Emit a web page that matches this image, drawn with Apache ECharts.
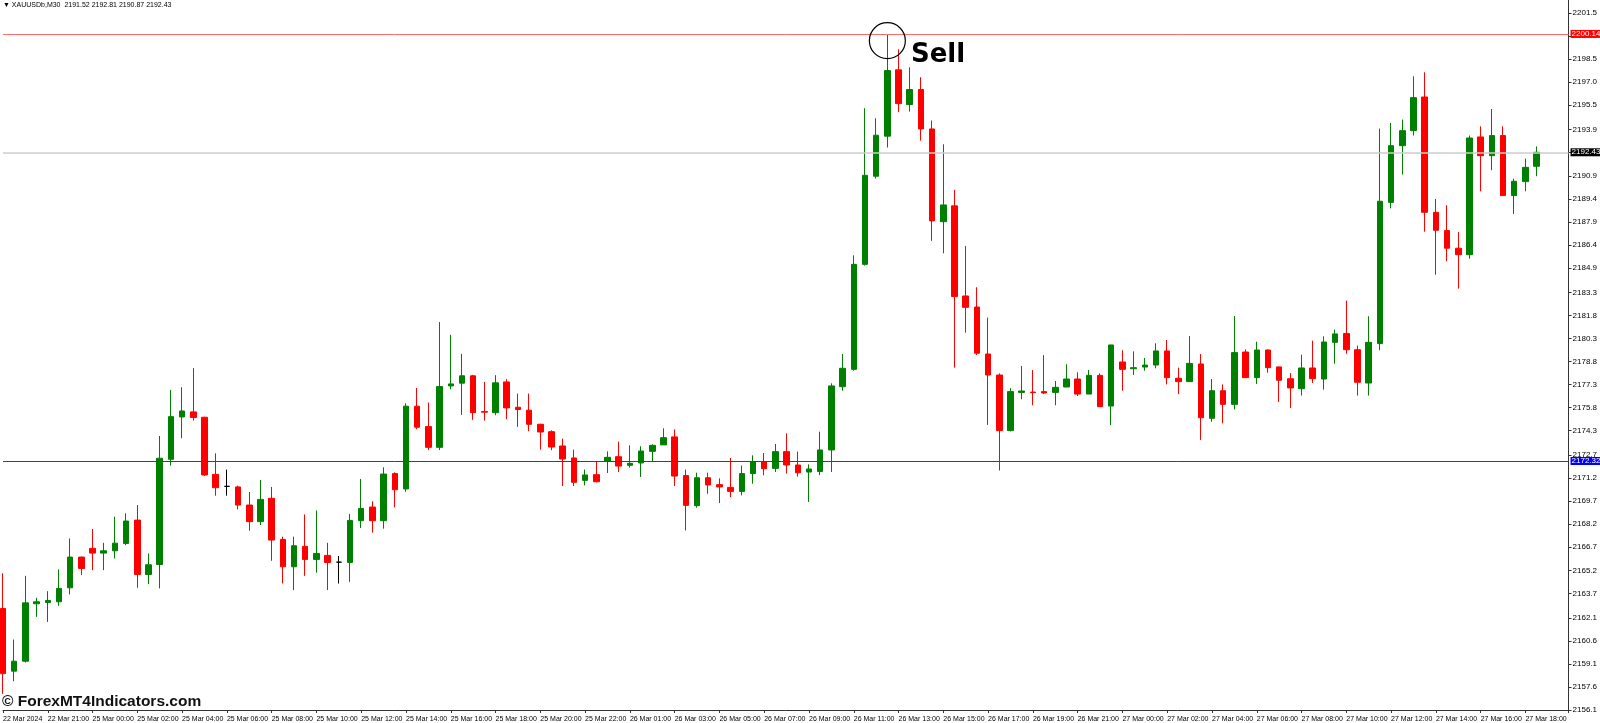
<!DOCTYPE html>
<html>
<head>
    <meta charset="utf-8">
    <title>XAUUSDb M30</title>
    <script src="https://cdn.jsdelivr.net/npm/echarts@6/dist/echarts.min.js"></script>
    <style>body { margin: 0; background: #fff; }</style>
</head>
<body>
    <div id="main" style="width:1600px;height:723px;"></div>
    <script type="text/javascript">
        // M30 candles, each row is [open, close, low, high]
        var mar22 = [
            [2162.71, 2158.47, 2157.15, 2165.00], [2158.63, 2159.28, 2157.97, 2160.69],
            [2159.28, 2163.08, 2159.19, 2164.84], [2163.02, 2163.15, 2162.17, 2163.41],
            [2163.10, 2163.23, 2161.84, 2163.84], [2163.15, 2164.02, 2162.89, 2165.26],
            [2164.06, 2166.06, 2163.63, 2167.28], [2166.06, 2165.32, 2164.89, 2166.10]
        ];
        var mar25 = [
            [2166.63, 2166.32, 2165.21, 2167.89], [2166.32, 2166.47, 2165.21, 2166.99],
            [2166.47, 2166.97, 2165.97, 2168.69], [2166.95, 2168.41, 2166.84, 2168.91],
            [2168.47, 2164.93, 2164.06, 2169.45], [2164.93, 2165.56, 2164.30, 2166.30],
            [2165.58, 2172.50, 2164.02, 2173.95], [2172.43, 2175.21, 2172.02, 2176.95],
            [2175.19, 2175.58, 2173.80, 2177.13], [2175.52, 2175.15, 2174.95, 2178.37],
            [2175.17, 2171.41, 2171.35, 2175.20], [2171.45, 2170.58, 2170.06, 2172.82],
            [2170.67, 2170.67, 2170.06, 2171.76], [2170.63, 2169.45, 2169.17, 2170.71],
            [2169.45, 2168.37, 2167.78, 2170.30], [2168.37, 2169.82, 2168.15, 2171.08],
            [2169.89, 2167.17, 2165.82, 2170.63], [2167.21, 2165.43, 2164.34, 2167.39],
            [2165.43, 2166.80, 2163.91, 2167.39], [2166.76, 2165.91, 2164.84, 2168.84],
            [2165.91, 2166.30, 2165.04, 2169.10], [2166.17, 2165.71, 2163.91, 2166.99],
            [2165.73, 2165.73, 2164.34, 2166.13], [2165.71, 2168.45, 2164.45, 2168.87],
            [2168.43, 2169.23, 2167.95, 2171.15], [2169.32, 2168.43, 2167.65, 2169.69],
            [2168.43, 2171.47, 2167.91, 2171.91], [2171.50, 2170.45, 2169.30, 2171.58],
            [2170.50, 2175.89, 2170.32, 2176.08], [2175.89, 2174.52, 2174.39, 2177.08],
            [2174.56, 2173.21, 2173.04, 2176.13], [2173.21, 2177.17, 2173.04, 2181.37],
            [2177.21, 2177.34, 2176.99, 2180.54], [2177.39, 2177.87, 2175.32, 2179.30],
            [2177.87, 2175.47, 2175.00, 2177.93], [2175.54, 2175.50, 2174.95, 2177.47],
            [2175.47, 2177.41, 2175.30, 2177.91], [2177.47, 2175.78, 2175.04, 2177.65],
            [2175.82, 2175.67, 2174.54, 2176.71], [2175.63, 2174.71, 2174.26, 2176.71],
            [2174.71, 2174.21, 2173.06, 2174.75], [2174.23, 2173.23, 2173.02, 2174.32],
            [2173.30, 2172.45, 2170.69, 2173.78], [2172.52, 2170.93, 2170.69, 2173.06],
            [2171.06, 2171.41, 2170.73, 2171.76], [2171.43, 2170.97, 2170.93, 2172.28]
        ];
        var mar26 = [
            [2172.30, 2172.56, 2171.54, 2172.95], [2172.60, 2171.99, 2171.60, 2173.58],
            [2172.04, 2172.17, 2171.89, 2173.34], [2172.19, 2172.97, 2171.28, 2173.28],
            [2172.95, 2173.34, 2172.30, 2173.41], [2173.37, 2173.84, 2173.37, 2174.45],
            [2173.89, 2171.34, 2170.69, 2174.37], [2171.37, 2169.43, 2167.80, 2171.76],
            [2169.41, 2171.23, 2169.28, 2171.56], [2171.23, 2170.76, 2170.19, 2171.56],
            [2170.78, 2170.63, 2169.58, 2171.19], [2170.60, 2170.34, 2169.97, 2172.52],
            [2170.34, 2171.50, 2170.08, 2172.02], [2171.50, 2172.26, 2170.84, 2172.69],
            [2172.26, 2171.82, 2171.39, 2172.84], [2171.84, 2172.93, 2171.60, 2173.43],
            [2172.93, 2172.06, 2171.50, 2174.12], [2172.06, 2171.55, 2171.30, 2172.93],
            [2171.60, 2171.80, 2169.65, 2172.10], [2171.64, 2173.04, 2171.40, 2174.23],
            [2173.04, 2177.21, 2171.60, 2177.38], [2177.16, 2178.36, 2176.90, 2179.29],
            [2178.29, 2185.13, 2178.20, 2185.72], [2185.13, 2190.93, 2185.05, 2195.30],
            [2190.87, 2193.54, 2190.72, 2194.65], [2193.48, 2197.75, 2192.74, 2200.10],
            [2197.80, 2195.60, 2195.04, 2199.14], [2195.54, 2196.52, 2195.08, 2197.97],
            [2196.52, 2193.95, 2193.19, 2197.32], [2193.95, 2187.96, 2186.66, 2194.50],
            [2187.91, 2189.00, 2185.85, 2192.95], [2188.94, 2183.03, 2178.40, 2189.98],
            [2183.07, 2182.33, 2180.68, 2186.33], [2182.35, 2179.34, 2179.23, 2183.64],
            [2179.29, 2177.92, 2174.67, 2181.66], [2177.92, 2174.30, 2171.70, 2178.03],
            [2174.30, 2176.84, 2174.25, 2177.06], [2176.79, 2176.88, 2176.34, 2178.51],
            [2176.81, 2176.77, 2175.95, 2178.25], [2176.84, 2176.75, 2176.68, 2179.22],
            [2176.79, 2177.12, 2175.95, 2177.53], [2177.14, 2177.66, 2177.14, 2178.62],
            [2177.66, 2176.68, 2176.55, 2178.10], [2176.68, 2177.90, 2176.68, 2178.25],
            [2177.90, 2175.86, 2175.86, 2178.03], [2175.90, 2179.88, 2174.66, 2179.88]
        ];
        var mar27 = [
            [2178.77, 2178.29, 2176.90, 2179.53], [2178.33, 2178.40, 2177.92, 2179.46],
            [2178.44, 2178.57, 2178.20, 2179.03], [2178.57, 2179.49, 2178.36, 2179.99],
            [2179.49, 2177.75, 2177.31, 2180.20], [2177.71, 2177.49, 2176.68, 2178.40],
            [2177.49, 2178.68, 2177.49, 2180.46], [2178.64, 2175.14, 2173.69, 2179.29],
            [2175.10, 2176.90, 2174.88, 2177.66], [2176.90, 2176.01, 2174.77, 2177.31],
            [2176.01, 2179.38, 2175.68, 2181.77], [2179.42, 2177.75, 2177.75, 2179.59],
            [2177.75, 2179.55, 2177.34, 2180.09], [2179.55, 2178.40, 2178.07, 2179.59],
            [2178.45, 2177.58, 2176.17, 2178.45], [2177.68, 2177.08, 2175.77, 2178.05],
            [2177.03, 2178.38, 2176.58, 2179.25], [2178.38, 2177.68, 2177.40, 2180.16],
            [2177.66, 2180.07, 2176.97, 2180.44], [2180.05, 2180.60, 2178.66, 2180.88],
            [2180.62, 2179.57, 2179.31, 2182.77], [2179.57, 2177.45, 2176.58, 2179.84],
            [2177.40, 2180.05, 2176.58, 2181.75], [2179.97, 2189.24, 2179.53, 2193.97],
            [2189.17, 2192.86, 2188.78, 2194.34], [2192.86, 2193.84, 2190.98, 2194.56],
            [2193.84, 2195.99, 2193.52, 2197.38], [2196.03, 2188.52, 2187.26, 2197.64],
            [2188.52, 2187.35, 2184.46, 2189.39], [2187.33, 2186.18, 2185.33, 2188.98],
            [2186.18, 2185.76, 2183.55, 2187.24], [2185.76, 2193.36, 2185.50, 2193.52],
            [2193.43, 2192.21, 2189.89, 2194.12], [2192.21, 2193.52, 2191.26, 2195.25],
            [2193.52, 2189.61, 2189.61, 2194.12], [2189.61, 2190.54, 2188.41, 2190.71],
            [2190.52, 2191.45, 2189.89, 2192.02], [2191.52, 2192.43, 2190.87, 2192.81]
        ];

        // time scale labels, one every 4 bars
        var xLabels = [
            '22 Mar 2024', '22 Mar 21:00', '25 Mar 00:00', '25 Mar 02:00', '25 Mar 04:00',
            '25 Mar 06:00', '25 Mar 08:00', '25 Mar 10:00', '25 Mar 12:00', '25 Mar 14:00',
            '25 Mar 16:00', '25 Mar 18:00', '25 Mar 20:00', '25 Mar 22:00', '26 Mar 01:00',
            '26 Mar 03:00', '26 Mar 05:00', '26 Mar 07:00', '26 Mar 09:00', '26 Mar 11:00',
            '26 Mar 13:00', '26 Mar 15:00', '26 Mar 17:00', '26 Mar 19:00', '26 Mar 21:00',
            '27 Mar 00:00', '27 Mar 02:00', '27 Mar 04:00', '27 Mar 06:00', '27 Mar 08:00',
            '27 Mar 10:00', '27 Mar 12:00', '27 Mar 14:00', '27 Mar 16:00', '27 Mar 18:00'
        ];
        // price scale labels
        var yTicks = [
            2156.1, 2157.6, 2159.1, 2160.6, 2162.1, 2163.7, 2165.2, 2166.7, 2168.2, 2169.7,
            2171.2, 2172.7, 2174.3, 2175.8, 2177.3, 2178.8, 2180.3, 2181.8, 2183.3, 2184.9,
            2186.4, 2187.9, 2189.4, 2190.9, 2192.4, 2193.9, 2195.5, 2197.0, 2198.5, 2200.0,
            2201.5
        ];

        var sellLevel = 2200.14;
        var bidLevel = 2192.43;
        var supportLevel = 2172.32;
        var sellPoint = [79, 2199.7];

        var candles = mar22.concat(mar25, mar26, mar27);
        var candleData = candles.map(function (c, i) {
            var item = { value: [i, c[0], c[1], c[2], c[3]] };
            if (c[0] === c[1]) {
                item.itemStyle = { color: '#000', color0: '#000', borderColor: '#000', borderColor0: '#000', borderColorDoji: '#000' };
            }
            return item;
        });

        var font = 'Liberation Sans';
        var myChart = echarts.init(document.getElementById('main'));

        function levelLabel(bg) {
            return {
                show: true, position: 'end', distance: 2,
                formatter: function (p) { return p.value.toFixed(2); },
                color: '#fff', backgroundColor: bg, fontFamily: font, fontSize: 8,
                lineHeight: 8, padding: [0, 1]
            };
        }

        var option = {
            animation: false,
            backgroundColor: '#fff',
            title: {
                text: '\u25BC XAUUSDb,M30  2191.52 2192.81 2190.87 2192.43',
                left: 3, top: 2, padding: 0,
                textStyle: { fontFamily: font, fontSize: 7, fontWeight: 'normal', color: '#000' }
            },
            graphic: [{
                type: 'text', left: 2, bottom: 13,
                style: { text: '\u00A9 ForexMT4Indicators.com', font: 'bold 15.5px "Liberation Sans"', fill: '#111' }
            }],
            grid: { left: 1, right: 25, top: 0, bottom: 13 },
            xAxis: {
                type: 'value', min: 0, max: 139.85, interval: 4,
                axisLine: { show: true, onZero: false, lineStyle: { color: '#333', width: 1 } },
                axisTick: { show: true, length: 3, lineStyle: { color: '#333' } },
                splitLine: { show: false },
                axisLabel: {
                    margin: 6, align: 'left', fontFamily: font, fontSize: 7, color: '#000',
                    formatter: function (v) { return v % 4 === 0 && xLabels[v / 4] ? xLabels[v / 4] : ''; }
                }
            },
            yAxis: {
                type: 'value', position: 'right', min: 2156.1, max: 2202.35, scale: true,
                axisLine: { show: true, onZero: false, lineStyle: { color: '#333', width: 1 } },
                axisTick: { show: true, length: 3, customValues: yTicks, lineStyle: { color: '#333' } },
                splitLine: { show: false },
                axisLabel: {
                    margin: 4, fontFamily: font, fontSize: 8, color: '#000', customValues: yTicks,
                    formatter: function (v) { return v.toFixed(1); }
                }
            },
            series: [{
                type: 'candlestick',
                data: candleData,
                encode: { x: 0, y: [1, 2, 3, 4] },
                barWidth: 6,
                itemStyle: {
                    color: '#008000', color0: '#ff0000',
                    borderColor: '#008000', borderColor0: '#ff0000', borderWidth: 1
                },
                markLine: {
                    silent: true, symbol: 'none', precision: 2,
                    data: [
                        { yAxis: sellLevel, lineStyle: { color: '#ff6a6a', width: 1, type: 'solid' }, label: levelLabel('#ff0000') },
                        { yAxis: bidLevel, lineStyle: { color: '#cccccc', width: 1.5, type: 'solid' }, label: levelLabel('#000') },
                        { yAxis: supportLevel, lineStyle: { color: '#2b2bff', width: 1, type: 'solid' }, label: levelLabel('#0000ff') }
                    ]
                },
                markPoint: {
                    silent: true,
                    data: [{
                        coord: sellPoint, symbol: 'circle', symbolSize: 36,
                        itemStyle: { color: 'rgba(0,0,0,0)', borderColor: '#000', borderWidth: 1.2 },
                        label: {
                            show: true, formatter: 'Sell', position: 'right', distance: 5, offset: [0, 15],
                            fontFamily: 'DejaVu Sans', fontWeight: 'bold', fontSize: 26, color: '#000'
                        }
                    }]
                }
            }]
        };

        myChart.setOption(option);
    </script>
</body>
</html>
